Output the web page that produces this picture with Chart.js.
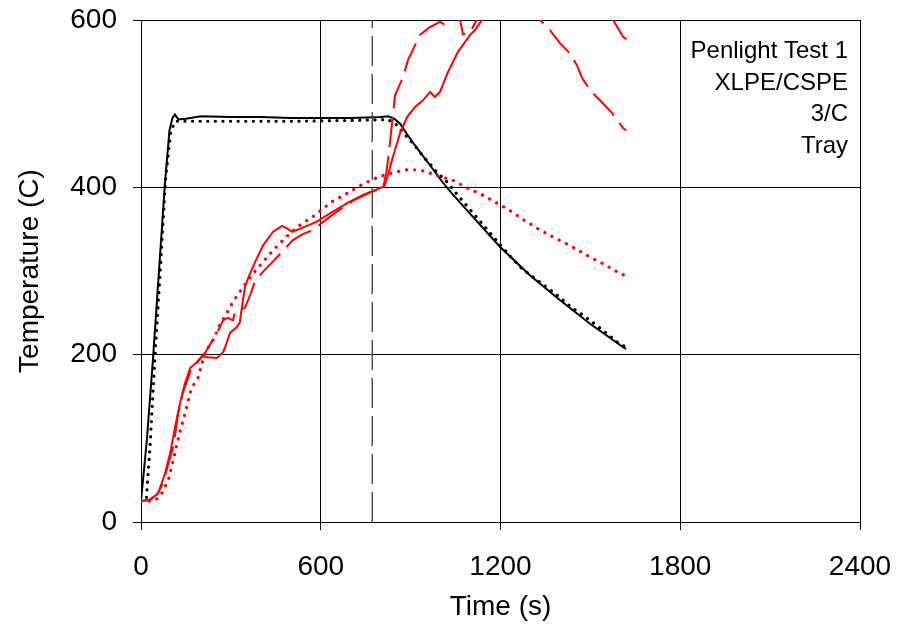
<!DOCTYPE html>
<html>
<head>
<meta charset="utf-8">
<script src="https://cdn.jsdelivr.net/npm/chart.js@4.4.1/dist/chart.umd.min.js"></script>
<style>
  body { margin: 0; background: #fff; }
  #wrap { width: 908px; height: 635px; }
</style>
</head>
<body>
<div id="wrap"><canvas id="chart"></canvas></div>
<script>
/* ======================
   DATA  [time (s), temperature (C)]
====================== */
const blackSolid = [[0,25],[20,100],[40,195],[60,300],[80,405],[95,468],[105,483],[113,487],[125,481],[150,482],[200,485],[300,484],[400,484],[500,483],[600,483],[700,483],[800,484],[825,485],[845,482],[865,476],[887,464],[909,453],[942,437],[976,421],[1009,405],[1042,391],[1087,373],[1198,329],[1298,295],[1399,265],[1499,237],[1609,209],[1620,207]];

const blackDotted = [[0,25],[18,27],[30,90],[47,200],[65,305],[82,410],[100,468],[115,479],[140,479],[300,479],[500,479],[700,480],[825,481],[852,475],[873,466],[897,457],[920,447],[944,436],[967,427],[990,417],[1015,409],[1038,399],[1061,389],[1085,379],[1176,341],[1221,322],[1271,303],[1326,288],[1379,274],[1432,258],[1488,244],[1542,229],[1593,214],[1620,209]];

const redSolid = [[0,25],[30,26],[58,35],[80,58],[97,82],[114,114],[130,142],[147,166],[164,184],[186,191],[203,198],[224,197],[253,196],[274,203],[286,214],[297,226],[320,233],[330,239],[337,257],[347,281],[357,291],[381,311],[408,331],[441,347],[471,354],[487,351],[504,347],[520,349],[554,354],[587,359],[631,369],[688,381],[741,391],[798,399],[812,401],[825,415],[838,433],[865,465],[888,484],[915,496],[941,504],[965,514],[981,508],[998,514],[1025,538],[1058,562],[1098,582],[1115,588],[1138,600],[1250,640],[1400,650],[1520,625],[1576,600],[1609,580],[1620,577]];

const redDashed = [[0,25],[30,27],[55,33],[74,47],[90,68],[108,90],[124,130],[140,155],[165,180],[186,190],[214,202],[230,212],[254,226],[274,241],[290,244],[307,241],[314,251],[347,256],[364,271],[380,287],[407,299],[437,310],[471,323],[507,337],[540,344],[574,349],[631,365],[708,384],[771,395],[808,399],[820,420],[830,450],[838,477],[848,510],[875,532],[891,552],[931,582],[958,590],[998,598],[1015,594],[1031,600],[1050,606],[1065,600],[1075,583],[1098,585],[1120,600],[1200,640],[1280,620],[1332,600],[1365,588],[1399,572],[1432,560],[1455,546],[1472,531],[1499,516],[1532,504],[1572,489],[1609,471],[1620,468]];

const redDotted = [[0,25],[30,25],[50,27],[63,30],[91,50],[108,74],[127,104],[147,130],[164,154],[177,165],[191,173],[213,202],[247,221],[257,232],[287,250],[304,261],[320,270],[340,280],[357,289],[377,298],[400,308],[424,318],[447,327],[474,337],[497,345],[531,355],[574,365],[638,383],[688,393],[741,404],[795,413],[848,418],[887,421],[925,421],[958,418],[985,414],[1038,409],[1091,399],[1145,390],[1198,379],[1224,374],[1278,361],[1332,349],[1385,339],[1439,329],[1492,318],[1546,308],[1599,297],[1620,294]];

const markerLine = [[772,0],[772,600]];

const xTicks = [0, 600, 1200, 1800, 2400];
const yTicks = [0, 200, 400, 600];
const noteLines = ["Penlight Test 1", "XLPE/CSPE", "3/C", "Tray"];

const FONT = "'Liberation Sans', Arial, sans-serif";

function toXY(arr) {
  return arr.map(p => ({ x: p[0], y: p[1] }));
}

/* ======================
   NOTE TEXT
====================== */
const notePlugin = {
  id: "note",
  afterDraw(chart) {
    const ctx = chart.ctx;
    ctx.save();
    ctx.font = "24px " + FONT;
    ctx.fillStyle = "#000";
    ctx.textAlign = "right";
    ctx.textBaseline = "alphabetic";
    noteLines.forEach((t, i) => {
      ctx.fillText(t, 848, 58 + i * 31.7);
    });
    ctx.restore();
  }
};

function line(data, color, width, dash, cap) {
  return {
    data: toXY(data),
    borderColor: color,
    borderWidth: width,
    borderDash: dash,
    borderCapStyle: cap || "butt",
    pointRadius: 0,
    fill: false,
    tension: 0
  };
}

new Chart(document.getElementById("chart"), {
  type: "line",
  data: {
    datasets: [
      line(markerLine, "#505050", 1.5, [30, 8]),
      line(redDotted, "#ff0000", 3.2, [0.1, 8], "round"),
      line(redDashed, "#ff0000", 2, [30, 9]),
      line(redSolid, "#ff0000", 2, []),
      line(blackDotted, "#000000", 3.2, [0.1, 7.5], "round"),
      line(blackSolid, "#000000", 2, [])
    ]
  },
  options: {
    responsive: true,
    maintainAspectRatio: false,
    animation: false,
    layout: { padding: { top: 20, right: 48, left: 0, bottom: 0 } },
    plugins: {
      legend: { display: false },
      tooltip: { enabled: false }
    },
    scales: {
      x: {
        type: "linear",
        min: 0,
        max: 2400,
        afterFit(s) { s.height = 113; s.paddingLeft = 0; s.paddingRight = 0; },
        afterBuildTicks(s) { s.ticks = xTicks.map(v => ({ value: v })); },
        grid: { color: "#000", lineWidth: 1, tickLength: 8 },
        border: { color: "#000", width: 1 },
        ticks: { color: "#000", font: { family: FONT, size: 28 }, padding: 20, maxRotation: 0,
                 callback: v => String(v) },
        title: { display: true, text: "Time (s)", color: "#000", font: { family: FONT, size: 28 }, padding: { bottom: 11 } }
      },
      y: {
        min: 0,
        max: 600,
        afterFit(s) { s.width = 141; s.paddingTop = 0; s.paddingBottom = 0; },
        afterBuildTicks(s) { s.ticks = yTicks.map(v => ({ value: v })); },
        grid: { color: "#000", lineWidth: 1, tickLength: 8 },
        border: { color: "#000", width: 1 },
        ticks: { color: "#000", font: { family: FONT, size: 28 }, padding: 16,
                 callback: v => String(v) },
        title: { display: true, text: "Temperature (C)", color: "#000", font: { family: FONT, size: 28 }, padding: { top: 13 } }
      }
    }
  },
  plugins: [notePlugin]
});
</script>
</body>
</html>
